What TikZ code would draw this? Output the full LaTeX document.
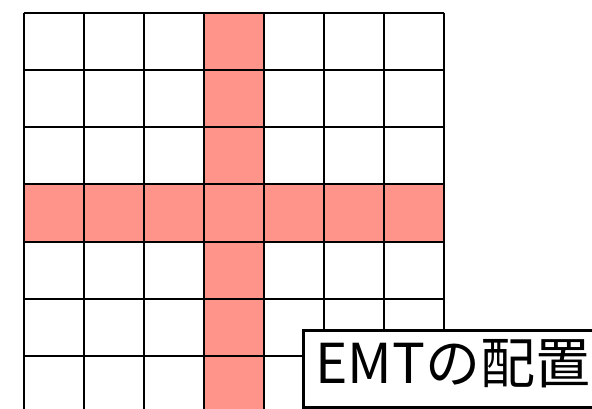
\documentclass[tikz,border=0pt]{standalone}
\usepackage{fontspec}
\newfontfamily\cjk{Noto Sans CJK JP}
\definecolor{cellred}{RGB}{255,148,138}
\tikzset{
  gridline/.style={line width=2pt, black},
  labelbox/.style={draw=black, line width=3pt, fill=white, anchor=north west, minimum width=320pt, minimum height=77pt, inner sep=0pt},
}
\begin{document}
\begin{tikzpicture}[x=1pt,y=-1pt]
\useasboundingbox (0,0) rectangle (592,408);
\clip (0,0) rectangle (592,408);
% red cross
\fill[cellred] (203.5,12.5) rectangle (263.5,420);
\fill[cellred] (23.5,184) rectangle (443.5,241.7);
% grid
\foreach \x in {23.5,83.5,143.5,203.5,263.5,323.5,383.5,443.5}
  \draw[gridline] (\x,12.5) -- (\x,420);
\foreach \y in {12.5,69.7,127,184,241.7,299,356.3}
  \draw[gridline] (23.5,\y) -- (443.5,\y);
% label
\node[labelbox] (box) at (301.7,329) {};
\node[anchor=base west, inner sep=0pt, font=\cjk\fontsize{55pt}{55pt}\selectfont] (lbl) at (315,383) {EMTの配置};
\end{tikzpicture}
\end{document}
